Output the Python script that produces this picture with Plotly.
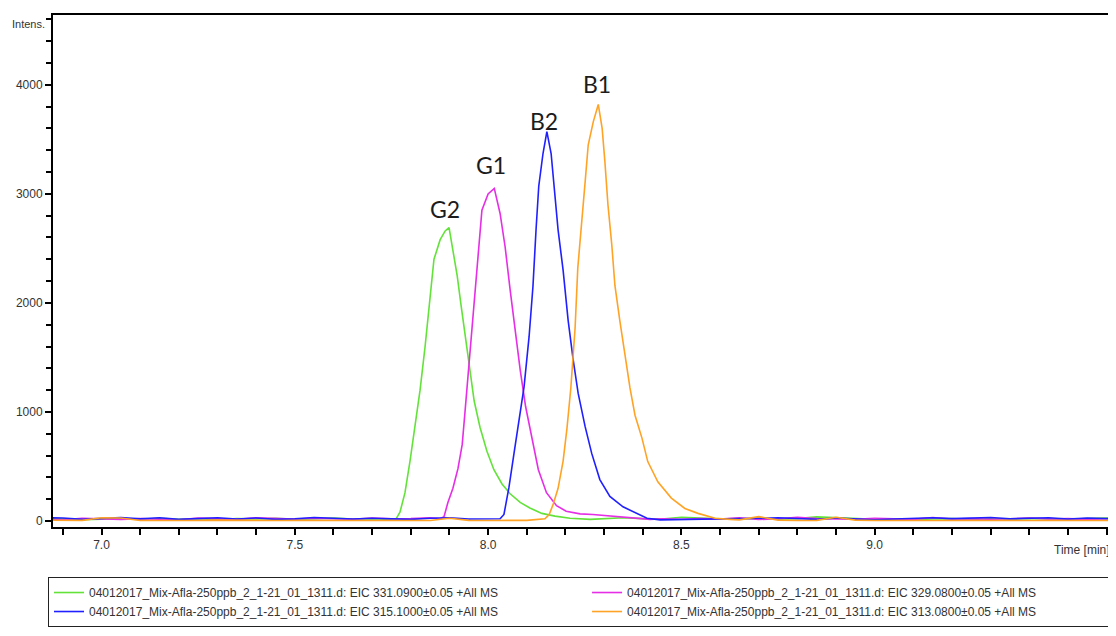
import plotly.graph_objects as go

# ---------------- data ----------------
green_t = [6.85, 6.90, 6.95, 7.00, 7.05, 7.10, 7.15, 7.20, 7.25, 7.30, 7.35, 7.40, 7.45, 7.50, 7.55, 7.60, 7.65, 7.70, 7.745,
           7.762, 7.772, 7.785, 7.798, 7.811, 7.824, 7.837, 7.850, 7.860, 7.876, 7.889, 7.899, 7.910, 7.920, 7.930, 7.941,
           7.951, 7.964, 7.979, 7.997, 8.015, 8.036, 8.057, 8.083, 8.108, 8.139, 8.173, 8.212, 8.264,
           8.30, 8.35, 8.40, 8.45, 8.50, 8.55, 8.60, 8.65, 8.70, 8.75, 8.80, 8.85, 8.90, 8.95, 9.00, 9.05, 9.10, 9.15,
           9.20, 9.25, 9.30, 9.35, 9.40, 9.45, 9.50, 9.55, 9.60, 9.65, 9.70]
green_v = [15, 20, 12, 18, 22, 14, 25, 16, 20, 12, 22, 18, 24, 15, 20, 26, 18, 22, 15,
           20, 80, 260, 550, 860, 1200, 1600, 2050, 2400, 2580, 2660, 2690, 2470, 2250, 1980, 1700,
           1420, 1100, 860, 640, 470, 340, 250, 170, 120, 70, 45, 25, 15,
           20, 30, 22, 18, 35, 25, 20, 18, 24, 16, 22, 38, 30, 18, 15, 20, 12, 18,
           22, 14, 20, 16, 24, 18, 15, 22, 28, 20, 16]

magenta_t = [6.85, 6.90, 6.95, 7.00, 7.05, 7.10, 7.15, 7.20, 7.25, 7.30, 7.35, 7.40, 7.45, 7.50, 7.55, 7.60, 7.65, 7.70,
             7.75, 7.80, 7.85,
             7.876, 7.886, 7.896, 7.909, 7.922, 7.933, 7.940, 7.948, 7.958, 7.966, 7.974, 7.984, 8.000, 8.016, 8.031,
             8.044, 8.057, 8.070, 8.083, 8.097, 8.115, 8.130, 8.151, 8.177, 8.202, 8.238, 8.271, 8.315, 8.367, 8.419,
             8.45, 8.50, 8.55, 8.60, 8.65, 8.70, 8.75, 8.80, 8.85, 8.90, 8.95, 9.00, 9.05, 9.10, 9.15, 9.20, 9.25,
             9.30, 9.35, 9.40, 9.45, 9.50, 9.55, 9.60, 9.65, 9.70]
magenta_v = [18, 12, 25, 20, 15, 22, 18, 12, 26, 20, 15, 30, 22, 18, 25, 20, 16, 28,
             20, 22, 30,
             20, 40, 170, 300, 480, 700, 990, 1330, 1800, 2150, 2480, 2850, 3000, 3050, 2820,
             2515, 2120, 1750, 1385, 1050, 740, 470, 260, 140, 90, 65, 60, 45, 28, 15,
             20, 16, 22, 18, 30, 14, 20, 35, 22, 18, 16, 24, 20, 15, 32, 18, 22,
             16, 20, 28, 18, 22, 15, 20, 25, 18]

blue_t = [6.85, 6.90, 6.95, 7.00, 7.05, 7.10, 7.15, 7.20, 7.25, 7.30, 7.35, 7.40, 7.45, 7.50, 7.55, 7.60, 7.65, 7.70,
          7.75, 7.80, 7.85, 7.90, 7.95, 8.00,
          8.031, 8.041, 8.054, 8.067, 8.080, 8.093, 8.106, 8.116, 8.124, 8.131, 8.142, 8.152, 8.163, 8.171, 8.181,
          8.194, 8.207, 8.220, 8.233, 8.251, 8.268, 8.289, 8.315, 8.349, 8.385, 8.411, 8.445,
          8.50, 8.55, 8.60, 8.65, 8.70, 8.75, 8.80, 8.85, 8.90, 8.95, 9.00, 9.05, 9.10, 9.15, 9.20, 9.25, 9.30,
          9.35, 9.40, 9.45, 9.50, 9.55, 9.60, 9.65, 9.70]
blue_v = [30, 28, 15, 25, 32, 20, 30, 15, 22, 30, 18, 28, 15, 20, 32, 22, 18, 25,
          20, 15, 25, 30, 18, 20,
          20, 60, 310, 620, 925, 1230, 1690, 2150, 2670, 3070, 3370, 3570, 3370, 3070, 2670,
          2300, 1840, 1480, 1170, 865, 620, 380, 225, 130, 70, 25, 10,
          12, 15, 20, 18, 25, 30, 22, 15, 28, 20, 12, 18, 25, 30, 22, 28, 32,
          20, 25, 30, 18, 28, 22, 25, 20]

orange_t = [6.85, 6.90, 6.95, 7.00, 7.05, 7.10, 7.15, 7.20, 7.25, 7.30, 7.35, 7.40, 7.45, 7.50, 7.55, 7.60, 7.65, 7.70,
            7.75, 7.80, 7.85, 7.90, 7.95, 8.00, 8.05, 8.10,
            8.147, 8.158, 8.168, 8.181, 8.194, 8.204, 8.214, 8.225, 8.232, 8.243, 8.251, 8.259, 8.272, 8.285, 8.295,
            8.302, 8.310, 8.320, 8.328, 8.341, 8.354, 8.367, 8.380, 8.398, 8.413, 8.439, 8.474, 8.509, 8.543, 8.587, 8.626,
            8.65, 8.70, 8.75, 8.80, 8.85, 8.90, 8.95, 9.00, 9.05, 9.10, 9.15, 9.20, 9.25, 9.30, 9.35, 9.40, 9.45,
            9.50, 9.55, 9.60, 9.65, 9.70]
orange_v = [8, 5, 6, 30, 28, 5, 4, 6, 5, 8, 5, 6, 5, 4, 5, 6, 5, 5,
            4, 6, 5, 25, 6, 5, 5, 6,
            20, 60, 150, 300, 550, 850, 1220, 1770, 2320, 2750, 3110, 3450, 3660, 3820, 3600,
            3300, 2900, 2530, 2160, 1830, 1520, 1220, 970, 760, 545, 360, 210, 115, 70, 25, 15,
            10, 40, 8, 5, 6, 35, 8, 5, 6, 5, 4, 5, 6, 5, 5, 4, 6,
            5, 5, 6, 5, 5]

series_names = [
    "04012017_Mix-Afla-250ppb_2_1-21_01_1311.d: EIC 331.0900±0.05 +All MS",
    "04012017_Mix-Afla-250ppb_2_1-21_01_1311.d: EIC 329.0800±0.05 +All MS",
    "04012017_Mix-Afla-250ppb_2_1-21_01_1311.d: EIC 315.1000±0.05 +All MS",
    "04012017_Mix-Afla-250ppb_2_1-21_01_1311.d: EIC 313.0800±0.05 +All MS",
]
peak_labels = ["G2", "G1", "B2", "B1"]
x_tick_vals = [7.0, 7.5, 8.0, 8.5, 9.0, 9.5]
x_tick_text = ["7.0", "7.5", "8.0", "8.5", "9.0", ""]

# ---------------- styling ----------------
series_colors = ["#63E23A", "#E52EE5", "#2020FF", "#FFA326"]
label_shift = [(-4, 19), (-3, 23), (-3, 11), (-1, 20)]  # pixel offsets of peak labels
FONT = "Liberation Sans Narrow, Arial Narrow, Liberation Sans, sans-serif"

times = [green_t, magenta_t, blue_t, orange_t]
values = [green_v, magenta_v, blue_v, orange_v]

fig = go.Figure()
for t, v, name, col in zip(times, values, series_names, series_colors):
    fig.add_trace(go.Scatter(x=t, y=v, mode="lines", name=name,
                             line=dict(color=col, width=1.6)))

annotations = []
for t, v, lab, (dx, dy) in zip(times, values, peak_labels, label_shift):
    i = max(range(len(v)), key=lambda k: v[k])
    annotations.append(dict(x=t[i], y=v[i], xref="x", yref="y", text=lab, showarrow=False,
                            xanchor="center", yanchor="middle", xshift=dx, yshift=dy,
                            font=dict(family="Lato, Open Sans, sans-serif", size=23, color="#1c1c1c")))

annotations.append(dict(x=-0.0405, y=0.982, xref="paper", yref="paper", text="Intens.", showarrow=False,
                        xanchor="left", yanchor="middle",
                        font=dict(family=FONT, size=11, color="#333")))
annotations.append(dict(x=1, y=-0.045, xref="paper", yref="paper", text="Time [min]", showarrow=False,
                        xanchor="right", yanchor="middle", xshift=-4,
                        font=dict(family=FONT, size=12, color="#333")))

fig.update_layout(
    width=1108, height=628,
    margin=dict(l=45, r=0, t=7, b=109, pad=0, autoexpand=False),
    plot_bgcolor="white", paper_bgcolor="white",
    font=dict(family=FONT, size=12, color="#333"),
    showlegend=True,
    legend=dict(orientation="h", x=-0.0047, xanchor="left", y=-0.0977, yanchor="top",
                bordercolor="#222", borderwidth=1, bgcolor="white",
                entrywidth=0.4856, entrywidthmode="fraction",
                font=dict(family=FONT, size=12, color="#333")),
    xaxis=dict(range=[6.8745, 9.6242], showline=True, linecolor="black", linewidth=2, mirror=True,
               ticks="outside", ticklen=6, tickwidth=1.5, tickcolor="black",
               tickmode="array", tickvals=x_tick_vals, ticktext=x_tick_text,
               showgrid=False, zeroline=False,
               minor=dict(tickmode="linear", dtick=0.1, tick0=7.0, ticks="outside", ticklen=6, tickwidth=1.5,
                          tickcolor="black", showgrid=False)),
    yaxis=dict(range=[-55, 4640], showline=True, linecolor="black", linewidth=2,
               ticks="outside", ticklen=6, tickwidth=1.5, tickcolor="black",
               tick0=0, dtick=1000, tickformat="d", showgrid=False, zeroline=False,
               minor=dict(dtick=200, tick0=0, ticks="outside", ticklen=5, tickwidth=1.5,
                          tickcolor="black", showgrid=False)),
    annotations=annotations,
)

fig.write_html("out.html")
